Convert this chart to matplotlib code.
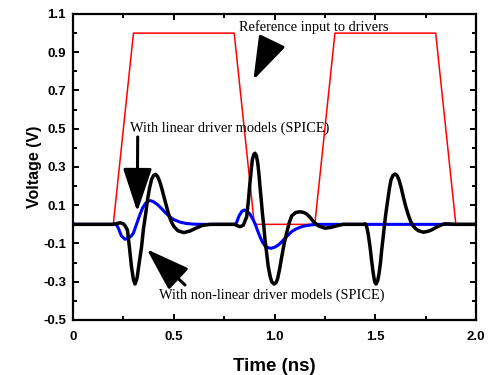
import matplotlib
matplotlib.use("Agg")
import matplotlib.pyplot as plt
from matplotlib.ticker import MultipleLocator

# Reference input (red trapezoids)
ref_t = [0.0, 0.2, 0.3, 0.8, 0.9, 1.2, 1.3, 1.8, 1.9, 2.0]
ref_v = [0.0, 0.0, 1.0, 1.0, 0.0, 0.0, 1.0, 1.0, 0.0, 0.0]

# Linear driver models (blue)
lin_t = [0.0, 0.20, 0.215, 0.225, 0.24, 0.258, 0.275, 0.29, 0.30, 0.31, 0.32, 0.33,
         0.345, 0.36, 0.375, 0.385, 0.40, 0.42, 0.44, 0.46, 0.48, 0.50, 0.53, 0.56,
         0.60, 0.65, 0.80, 0.81, 0.824, 0.838, 0.85, 0.865, 0.878, 0.89, 0.903, 0.915,
         0.928, 0.94, 0.953, 0.968, 0.983, 1.00, 1.019, 1.035, 1.052, 1.07, 1.085,
         1.105, 1.127, 1.15, 1.18, 1.22, 1.5, 2.0]
lin_v = [0.0, 0.0, 0.0, -0.02, -0.06, -0.078, -0.072, -0.06, -0.045, -0.015, 0.015, 0.045,
         0.085, 0.11, 0.123, 0.124, 0.118, 0.103, 0.082, 0.06, 0.04, 0.025, 0.012, 0.005,
         0.001, 0.0, 0.0, 0.005, 0.044, 0.068, 0.075, 0.068, 0.054, 0.032, 0.005, -0.03,
         -0.065, -0.092, -0.113, -0.122, -0.125, -0.12, -0.108, -0.092, -0.073, -0.054, -0.038,
         -0.025, -0.015, -0.008, -0.003, 0.0, 0.0, 0.0]

# Non-linear driver models (black)
nl_t = [0.0, 0.20, 0.22, 0.235, 0.25, 0.26, 0.27, 0.28, 0.29, 0.30, 0.308, 0.318,
        0.33, 0.34, 0.35, 0.36, 0.37, 0.38, 0.39, 0.40, 0.41, 0.42, 0.43, 0.44, 0.45,
        0.46, 0.47, 0.48, 0.49, 0.50, 0.52, 0.55, 0.58, 0.61, 0.64, 0.68, 0.80,
        0.818, 0.829, 0.845, 0.862, 0.87, 0.878, 0.885, 0.89, 0.897, 0.903, 0.91, 0.917,
        0.923, 0.928, 0.934, 0.94, 0.947, 0.953, 0.961, 0.969, 0.978, 0.986, 0.998,
        1.008, 1.016, 1.026, 1.036, 1.048, 1.06, 1.072, 1.085, 1.105, 1.127, 1.145,
        1.16, 1.178, 1.193, 1.218, 1.251, 1.28, 1.30, 1.34, 1.44,
        1.45, 1.457, 1.465, 1.474, 1.482, 1.49, 1.497, 1.504, 1.512, 1.519, 1.526,
        1.532, 1.539, 1.545, 1.553, 1.562, 1.57, 1.578, 1.588, 1.598, 1.608, 1.618,
        1.628, 1.639, 1.651, 1.664, 1.676, 1.689, 1.70, 1.714, 1.739, 1.76, 1.78,
        1.80, 1.813, 1.83, 1.846, 1.87, 1.90, 2.0]
nl_v = [0.0, 0.0, 0.005, 0.008, 0.003, -0.01, -0.03, -0.12, -0.22, -0.29, -0.312, -0.28,
        -0.19, -0.12, -0.02, 0.05, 0.13, 0.19, 0.235, 0.256, 0.262, 0.25, 0.225, 0.19, 0.15,
        0.11, 0.07, 0.035, 0.01, -0.01, -0.033, -0.043, -0.035, -0.02, -0.006, 0.0, 0.0,
        -0.008, -0.012, -0.005, 0.04, 0.12, 0.215, 0.29, 0.337, 0.365, 0.372, 0.36, 0.32,
        0.26, 0.197, 0.13, 0.058, -0.01, -0.082, -0.15, -0.221, -0.27, -0.30, -0.312,
        -0.305, -0.282, -0.23, -0.169, -0.1, -0.047, 0.005, 0.044, 0.062, 0.066, 0.062,
        0.054, 0.035, 0.014, -0.008, -0.02, -0.016, -0.01, 0.0, 0.0,
        0.003, -0.01, -0.05, -0.117, -0.19, -0.256, -0.3, -0.312, -0.295, -0.256, -0.2,
        -0.134, -0.07, -0.01, 0.06, 0.127, 0.185, 0.232, 0.256, 0.263, 0.256, 0.232,
        0.195, 0.145, 0.095, 0.049, 0.015, -0.01, -0.022, -0.033, -0.041, -0.037, -0.029,
        -0.017, -0.01, -0.002, 0.003, 0.002, 0.0, 0.0]

fig = plt.figure(figsize=(4.88, 3.75), dpi=100)
ax = fig.add_axes([0.1496, 0.1467, 0.8258, 0.8160])

ax.plot(ref_t, ref_v, color='#ff0000', lw=1.1, zorder=2)
ax.plot(lin_t, lin_v, color='#0000ff', lw=2.2, zorder=3, solid_joinstyle='round')
ax.plot(nl_t, nl_v, color='black', lw=2.5, zorder=4, solid_joinstyle='round')

ax.set_xlim(0, 2.0)
ax.set_ylim(-0.5, 1.1)
ax.xaxis.set_major_locator(MultipleLocator(0.5))
ax.xaxis.set_minor_locator(MultipleLocator(0.25))
ax.yaxis.set_major_locator(MultipleLocator(0.2))
ax.yaxis.set_minor_locator(MultipleLocator(0.1))
ax.set_yticks([-0.5, -0.3, -0.1, 0.1, 0.3, 0.5, 0.7, 0.9, 1.1])
ax.set_yticklabels(['-0.5', '-0.3', '-0.1', '0.1', '0.3', '0.5', '0.7', '0.9', '1.1'])
ax.set_xticks([0, 0.5, 1.0, 1.5, 2.0])
ax.set_xticklabels(['0', '0.5', '1.0', '1.5', '2.0'])

for s in ax.spines.values():
    s.set_linewidth(1.6)
ax.tick_params(which='both', direction='in', top=True, right=True, width=1.4)
ax.tick_params(which='major', length=4.5)
ax.tick_params(which='minor', length=3)
ax.tick_params(axis='y', pad=5)
ax.tick_params(axis='x', pad=8)
for lab in ax.get_xticklabels() + ax.get_yticklabels():
    lab.set_fontfamily('Liberation Sans')
    lab.set_fontweight('bold')
    lab.set_fontsize(9.5)

ax.set_xlabel('Time (ns)', fontfamily='Liberation Sans', fontweight='bold', fontsize=13.5, labelpad=11)
ax.set_ylabel('Voltage (V)', fontfamily='Liberation Sans', fontweight='bold', fontsize=11.5, labelpad=1)

tfont = dict(fontfamily='Liberation Serif', fontsize=10.4, va='center', ha='left')
ax.text(0.824, 1.032, 'Reference input to drivers', **tfont)
ax.text(0.283, 0.504, 'With linear driver models (SPICE)', **tfont)
ax.text(0.427, -0.369, 'With non-linear driver models (SPICE)', **tfont)

ap = dict(arrowstyle='-|>,head_length=1.35,head_width=0.45', mutation_scale=20,
          lw=2.2, color='black', shrinkA=0, shrinkB=0)
ax.annotate('', xy=(0.895, 0.755), xytext=(0.983, 0.948), arrowprops=ap, zorder=5)
ax.annotate('', xy=(0.319, 0.066), xytext=(0.321, 0.457), arrowprops=ap, zorder=5)
ax.annotate('', xy=(0.366, -0.130), xytext=(0.556, -0.317), arrowprops=ap, zorder=5)

fig.savefig('out.png', dpi=100)
